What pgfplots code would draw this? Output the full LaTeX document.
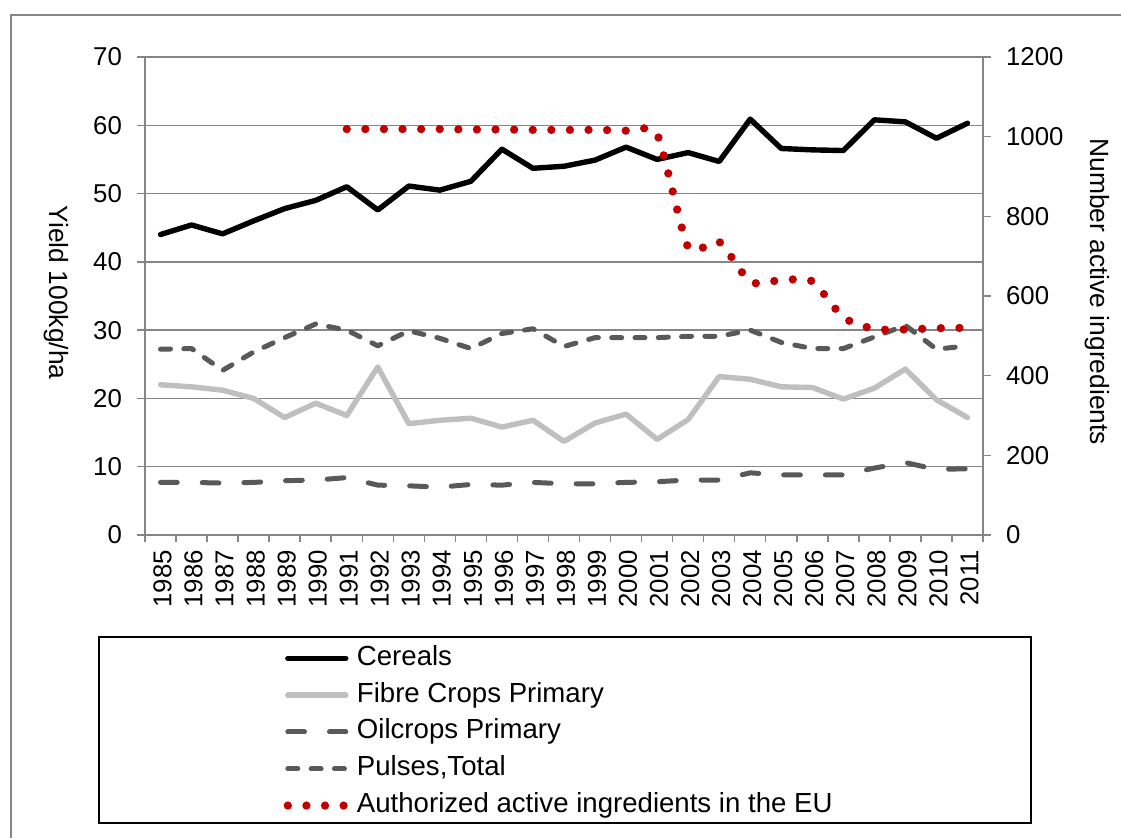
\documentclass[border=0pt]{standalone}
\usepackage{fontspec}
\setmainfont{Liberation Sans}
\usepackage{pgfplots}
\pgfplotsset{compat=1.18}

\definecolor{axgray}{RGB}{134,134,134}
\definecolor{fibregray}{RGB}{191,191,191}
\definecolor{dgray}{RGB}{89,89,89}
\definecolor{aired}{RGB}{192,0,0}

\tikzset{
  cereals/.style={black, line width=2.7pt, line join=round, line cap=round},
  fibre/.style={fibregray, line width=2.7pt, line join=round, line cap=round},
  oil/.style={dgray, line width=2.5pt, line join=round, line cap=round, dash pattern=on 8.35pt off 12.5pt},
  pulses/.style={dgray, line width=2.5pt, line join=round, line cap=round, dash pattern=on 5pt off 6.65pt},
  ai/.style={aired, line width=4.15pt, line cap=round, dash pattern=on 0pt off 9.3pt},
}

\pgfplotsset{
  common/.style={
    at={(72.5pt,151.5pt)}, anchor=south west,
    scale only axis, width=419pt, height=239pt,
    xmin=-0.5, xmax=26.5,
    tick align=outside,
    major tick length=4pt,
    tick style={axgray, line width=0.75pt},
    axis line style={axgray, line width=0.75pt, -},
    ticklabel style={font=\fontsize{12.9}{15}\selectfont},
    /pgf/number format/assume math mode=true,
    /pgf/number format/1000 sep={},
  },
}

\begin{document}
\begin{tikzpicture}
\path[use as bounding box] (0,0) rectangle (560.5pt,419pt);
\draw[axgray, line width=0.8pt] (5.5pt,-2pt) -- (5.5pt,411.5pt) -- (563pt,411.5pt);

% left axis: yields
\begin{axis}[common,
  axis x line*=bottom, axis y line*=left,
  ymin=0, ymax=70, ytick={0,10,...,70},
  ymajorgrids, grid style={axgray, line width=0.75pt},
  yticklabel style={xshift=-4pt},
  xtick={0,...,26},
  xticklabels={1985,1986,1987,1988,1989,1990,1991,1992,1993,1994,1995,1996,1997,1998,
    1999,2000,2001,2002,2003,2004,2005,2006,2007,2008,2009,2010,2011},
  major x tick style={draw=none},
  minor xtick={-0.5,0.5,...,26.5},
  minor tick length=3.5pt,
  xticklabel style={rotate=90, anchor=east, yshift=-1pt},
  every axis y label/.style={at={(axis description cs:-0.1062,0.507)}, rotate=-90, anchor=center,
    font=\fontsize{13.2}{15}\selectfont},
  ylabel={Yield 100kg/ha},
]
% Cereals
\addplot[cereals] coordinates {
  (0,44.0) (1,45.4) (2,44.1) (3,46.0) (4,47.8) (5,49.0) (6,51.0) (7,47.6) (8,51.1)
  (9,50.5) (10,51.8) (11,56.5) (12,53.7) (13,54.0) (14,54.9) (15,56.8) (16,55.0)
  (17,56.0) (18,54.7) (19,60.9) (20,56.6) (21,56.4) (22,56.3) (23,60.8) (24,60.5)
  (25,58.1) (26,60.3)
};
% Fibre Crops Primary
\addplot[fibre] coordinates {
  (0,22.0) (1,21.7) (2,21.2) (3,20.0) (4,17.2) (5,19.3) (6,17.5) (7,24.6) (8,16.3)
  (9,16.8) (10,17.1) (11,15.8) (12,16.8) (13,13.7) (14,16.4) (15,17.7) (16,14.0)
  (17,16.9) (18,23.2) (19,22.8) (20,21.7) (21,21.6) (22,19.9) (23,21.5) (24,24.3)
  (25,19.8) (26,17.2)
};
% Oilcrops Primary
\addplot[oil] coordinates {
  (0,7.7) (1,7.7) (2,7.6) (3,7.7) (4,7.95) (5,8.05) (6,8.4) (7,7.3) (8,7.2)
  (9,7.0) (10,7.4) (11,7.3) (12,7.7) (13,7.5) (14,7.5) (15,7.7) (16,7.8)
  (17,8.05) (18,8.05) (19,9.1) (20,8.8) (21,8.8) (22,8.8) (23,9.8) (24,10.6)
  (25,9.6) (26,9.7)
};
% Pulses, Total
\addplot[pulses] coordinates {
  (0,27.2) (1,27.3) (2,24.1) (3,26.8) (4,28.9) (5,30.9) (6,30.0) (7,27.7) (8,29.9)
  (9,28.8) (10,27.3) (11,29.5) (12,30.2) (13,27.6) (14,28.9) (15,28.9) (16,28.9)
  (17,29.1) (18,29.1) (19,30.0) (20,28.2) (21,27.3) (22,27.3) (23,29.0) (24,30.7)
  (25,27.2) (26,27.7)
};
\end{axis}

% right axis: number of authorized active ingredients
\begin{axis}[common,
  axis x line=none, axis y line*=right,
  ymin=0, ymax=1200, ytick={0,200,...,1200},
  yticklabel style={xshift=4pt},
  every axis y label/.style={at={(axis description cs:1.137,0.509)}, rotate=-90, anchor=center,
    font=\fontsize{13.2}{15}\selectfont},
  ylabel={Number active ingredients},
  legend image code/.code={\draw[#1] (1.3pt,0pt) -- (30.3pt,0pt);},
  legend cell align=left,
  legend style={draw=none, fill=none, at={(axis description cs:0.165,-0.2188)}, anchor=north west,
    inner sep=0pt, row sep=0pt, column sep=3.5pt,
    nodes={inner xsep=0pt, inner ysep=2.7pt, text height=10pt, text depth=3pt,
      font=\fontsize{13.8}{16}\selectfont}},
]
\addlegendimage{cereals}\addlegendentry{Cereals}
\addlegendimage{fibre}\addlegendentry{Fibre Crops Primary}
\addlegendimage{oil}\addlegendentry{Oilcrops Primary}
\addlegendimage{pulses}\addlegendentry{Pulses,Total}
\addplot[ai, smooth, tension=0.35] coordinates {
  (6,1019) (7,1019) (8,1019) (9,1019) (10,1018) (11,1018) (12,1017) (13,1017)
  (14,1017) (15,1015) (16,1006) (17,722) (18,736) (19,635) (20,640) (21,637)
  (22,546) (23,517) (24,516) (25,519) (26,520)
};
\addlegendentry{Authorized active ingredients in the EU}
\end{axis}

\draw[black, line width=1pt] (49.5pt,7.35pt) rectangle (515.35pt,100.5pt);
\end{tikzpicture}
\end{document}
